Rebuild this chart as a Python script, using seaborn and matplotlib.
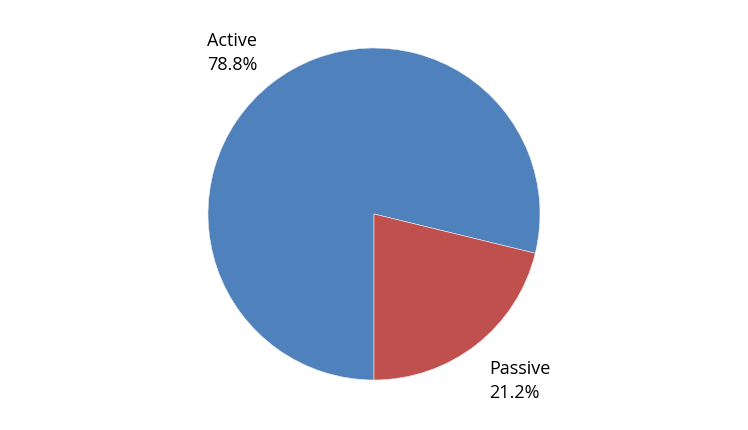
import matplotlib
matplotlib.use('Agg')
import matplotlib.pyplot as plt
import seaborn as sns

# Data
categories = ['Active', 'Passive']
shares = [78.8, 21.2]
colors = ['#4F81BD', '#C0504D']

sns.set_theme(style='white')
plt.rcParams['font.family'] = ['Open Sans', 'DejaVu Sans']

W, H = 748, 431
cx, cy, r = 374, 215, 166
fig = plt.figure(figsize=(W / 100, H / 100), dpi=100)
fig.patch.set_facecolor('white')
ax = fig.add_axes([(cx - r) / W, (H - cy - r) / H, 2 * r / W, 2 * r / H])

# Passive wedge ends at 6 o'clock, Active fills the rest
start = -90 + shares[1] / 100 * 360
ax.pie(shares, colors=colors, startangle=start, counterclock=True, radius=1,
       wedgeprops=dict(edgecolor='#f0f0f0', linewidth=0.4))
ax.set_xlim(-1, 1)
ax.set_ylim(-1, 1)
ax.set_aspect('equal')
ax.axis('off')

# label positions in pixels (left edge, vertical middle of the block)
label_px = [(207, 53), (489, 381)]
for name, val, (px, py) in zip(categories, shares, label_px):
    ax.text((px - cx) / r, (cy - py) / r, f'{name}\n{val}%', ha='left', va='center',
            fontsize=13, color='black', linespacing=1.4, clip_on=False)

fig.savefig('out.png', dpi=100)
